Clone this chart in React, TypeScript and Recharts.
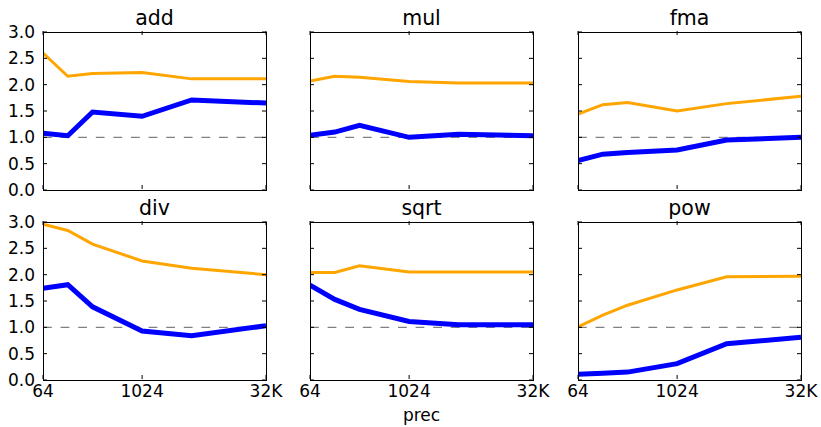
import React from 'react';
import { LineChart, Line, XAxis, YAxis, ReferenceLine } from 'recharts';

const prec = [64, 128, 256, 1024, 4096, 32768];
const xTicks = [64, 1024, 32768];
const yTicks = [0, 0.5, 1, 1.5, 2, 2.5, 3];

const addOrange = [2.6, 2.16, 2.21, 2.23, 2.11, 2.11];
const addBlue = [1.08, 1.03, 1.48, 1.4, 1.71, 1.65];
const mulOrange = [2.07, 2.16, 2.14, 2.06, 2.03, 2.03];
const mulBlue = [1.04, 1.1, 1.23, 1.0, 1.06, 1.03];
const fmaOrange = [1.44, 1.62, 1.66, 1.5, 1.64, 1.78];
const fmaBlue = [0.56, 0.68, 0.71, 0.76, 0.95, 1.0];
const divOrange = [2.96, 2.84, 2.58, 2.26, 2.12, 2.0];
const divBlue = [1.74, 1.81, 1.39, 0.93, 0.84, 1.03];
const sqrtOrange = [2.04, 2.04, 2.17, 2.05, 2.05, 2.05];
const sqrtBlue = [1.8, 1.53, 1.34, 1.11, 1.05, 1.05];
const powOrange = [1.01, 1.23, 1.42, 1.71, 1.96, 1.97];
const powBlue = [0.11, 0.13, 0.15, 0.31, 0.69, 0.81];

const PW = 223;
const PH = 158;
const colLeft = [43, 310, 578];
const rowTop = [32, 222];
const FONT = '"DejaVu Sans", sans-serif';
const M = { top: 10, right: 24, bottom: 30, left: 42 };

const fmtX = (v: number) => (v === 32768 ? '32K' : String(v));

// axis band is 1px wide, so the tick's y sits one pixel under the plot
const XTick = ({ x, y, payload, showLabel }: any) => {
  const yb = y - 1;
  return (
    <g>
      <line x1={x} y1={yb} x2={x} y2={yb - 4} stroke="#000" />
      <line x1={x} y1={yb - PH} x2={x} y2={yb - PH + 4} stroke="#000" />
      {showLabel && (
        <text x={x} y={yb + 18} textAnchor="middle" fontSize={17} fontFamily={FONT} fill="#000">
          {fmtX(payload.value)}
        </text>
      )}
    </g>
  );
};

const YTick = ({ x, y, payload, showLabel }: any) => (
  <g>
    <line x1={x} y1={y} x2={x + 4} y2={y} stroke="#000" />
    <line x1={x + PW} y1={y} x2={x + PW - 4} y2={y} stroke="#000" />
    {showLabel && (
      <text x={x - 8} y={y} dy="0.36em" textAnchor="end" fontSize={17} fontFamily={FONT} fill="#000">
        {payload.value.toFixed(1)}
      </text>
    )}
  </g>
);

function Panel({ title, orange, blue, col, row }: any) {
  const data = prec.map((p, i) => ({ prec: p, orange: orange[i], blue: blue[i] }));
  const left = colLeft[col];
  const top = rowTop[row];
  const showX = row === 1;
  const showY = col === 0;
  return (
    <>
      <div
        style={{
          position: 'absolute',
          left,
          width: PW,
          top: top - 24.5,
          textAlign: 'center',
          fontFamily: FONT,
          fontSize: 20.5,
          lineHeight: '20.5px',
        }}
      >
        {title}
      </div>
      <div style={{ position: 'absolute', left: left - M.left, top: top - M.top }}>
        <LineChart
          width={PW + M.left + M.right}
          height={PH + M.top + M.bottom}
          data={data}
          margin={{ top: M.top, right: M.right, bottom: M.bottom - 1, left: M.left - 1 }}
        >
          <XAxis
            type="number"
            dataKey="prec"
            scale="log"
            domain={[64, 32768]}
            ticks={xTicks}
            interval={0}
            allowDataOverflow
            height={1}
            tickSize={0}
            tickMargin={0}
            axisLine={false}
            tick={(p: any) => <XTick {...p} showLabel={showX} />}
          />
          <YAxis
            type="number"
            domain={[0, 3]}
            ticks={yTicks}
            interval={0}
            allowDataOverflow
            width={1}
            tickSize={0}
            tickMargin={0}
            axisLine={false}
            tick={(p: any) => <YTick {...p} showLabel={showY} />}
          />
          <ReferenceLine y={1} stroke="#808080" strokeWidth={1.3} strokeDasharray="8.8 8.8" />
          <Line dataKey="orange" stroke="#FFA500" strokeWidth={3} dot={false} isAnimationActive={false} />
          <Line dataKey="blue" stroke="#0000FF" strokeWidth={5} dot={false} isAnimationActive={false} />
        </LineChart>
      </div>
      <div
        style={{
          position: 'absolute',
          left,
          top,
          width: PW + 1,
          height: PH + 1,
          border: '1px solid #000',
          boxSizing: 'border-box',
          pointerEvents: 'none',
        }}
      />
    </>
  );
}

export default function App() {
  return (
    <div style={{ position: 'absolute', left: 0, top: 0, width: 821, height: 427, background: '#fff' }}>
      <Panel title="add" orange={addOrange} blue={addBlue} col={0} row={0} />
      <Panel title="mul" orange={mulOrange} blue={mulBlue} col={1} row={0} />
      <Panel title="fma" orange={fmaOrange} blue={fmaBlue} col={2} row={0} />
      <Panel title="div" orange={divOrange} blue={divBlue} col={0} row={1} />
      <Panel title="sqrt" orange={sqrtOrange} blue={sqrtBlue} col={1} row={1} />
      <Panel title="pow" orange={powOrange} blue={powBlue} col={2} row={1} />
      <div
        style={{
          position: 'absolute',
          left: colLeft[1],
          width: PW,
          top: 407,
          textAlign: 'center',
          fontFamily: FONT,
          fontSize: 17,
          lineHeight: '17px',
        }}
      >
        prec
      </div>
    </div>
  );
}
